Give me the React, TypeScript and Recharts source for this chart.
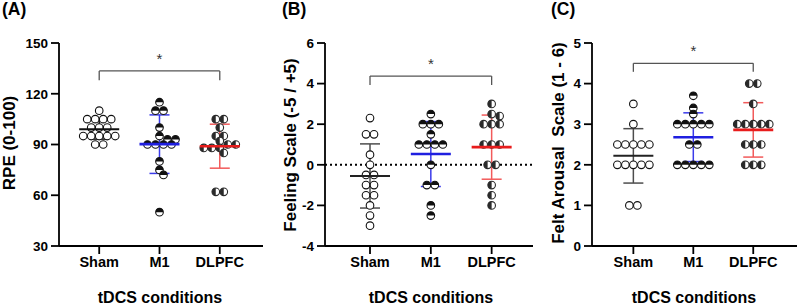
import React from "react";
import {
  ErrorBar,
  ReferenceLine,
  Scatter,
  ScatterChart,
  XAxis,
  YAxis,
} from "recharts";

const conditions = ["Sham", "M1", "DLPFC"];

// (A) RPE
const rpeSham = [110, 105, 105, 105, 105, 100, 100, 100, 95, 95, 95, 95, 95, 90, 90];
const rpeM1 = [115, 110, 110, 100, 95, 93, 93, 90, 90, 90, 90, 80, 75, 72, 50];
const rpeDlpfc = [105, 105, 100, 95, 95, 92, 90, 90, 88, 88, 88, 85, 62, 62];
const rpeMean = [99, 90.2, 89];
const rpeSd = [5.8, 17.3, 13];
const rpeTicks = [30, 60, 90, 120, 150];

// (B) Feeling Scale
const feelingSham = [2.3, 1.5, 1.5, 0.5, 0, -0.5, -0.5, -1, -1, -1.5, -1.5, -2, -2.5, -3];
const feelingM1 = [2.5, 2, 2, 2, 1.5, 1, 1, 1, 1, 0, -1, -1, -2, -2.5];
const feelingDlpfc = [3, 2.5, 2.4, 2, 2, 2, 1, 1, 1, 0, 0, -1, -1.5, -2];
const feelingMean = [-0.55, 0.53, 0.87];
const feelingSd = [1.58, 1.6, 1.58];
const feelingTicks = [-4, -2, 0, 2, 4, 6];

// (C) Felt Arousal Scale
const arousalSham = [3.5, 3, 2.5, 2.5, 2.5, 2.5, 2.5, 2, 2, 2, 2, 2, 1, 1];
const arousalM1 = [3.7, 3.4, 3.25, 3, 3, 3, 3, 3, 2.5, 2.5, 2, 2, 2, 2, 2];
const arousalDlpfc = [4, 4, 3.5, 3, 3, 3, 3, 3, 2.5, 2.5, 2.5, 2, 2, 2];
const arousalMean = [2.22, 2.68, 2.86];
const arousalSd = [0.67, 0.6, 0.67];
const arousalTicks = [0, 1, 2, 3, 4, 5];

const FONT = "'Liberation Sans', Arial, sans-serif";
const HEIGHT = 305;
const TOP = 43;
const X_AXIS_H = 59;
const PLOT_H = HEIGHT - TOP - X_AXIS_H;
const R = 3.8;
const DOT = 8;

type DotProps = { cx?: number; cy?: number };

function OpenDot({ cx = 0, cy = 0 }: DotProps) {
  return <circle cx={cx} cy={cy} r={R} fill="#fff" stroke="#111" strokeWidth={1.1} />;
}

function TopHalfDot({ cx = 0, cy = 0 }: DotProps) {
  return (
    <g>
      <circle cx={cx} cy={cy} r={R} fill="#fff" />
      <path d={`M${cx - R},${cy} A${R},${R} 0 0 1 ${cx + R},${cy} Z`} fill="#111" />
      <circle cx={cx} cy={cy} r={R} fill="none" stroke="#111" strokeWidth={1.1} />
    </g>
  );
}

function LeftHalfDot({ cx = 0, cy = 0 }: DotProps) {
  return (
    <g>
      <circle cx={cx} cy={cy} r={R} fill="#fff" />
      <path d={`M${cx},${cy - R} A${R},${R} 0 0 0 ${cx},${cy + R} Z`} fill="#2a2a2a" />
      <circle cx={cx} cy={cy} r={R} fill="none" stroke="#2a2a2a" strokeWidth={1.1} />
    </g>
  );
}

const dotShapes = [OpenDot, TopHalfDot, LeftHalfDot];

// simple beeswarm: equal values sit in a centred row, rows slide sideways until they stop colliding
function swarm(values: number[], pxPerY: number, pxPerX: number) {
  const placed: { x: number; y: number }[] = [];
  const out = values.map(() => 0);
  const rows = new Map<number, number[]>();
  values.forEach((v, i) => rows.set(v, [...(rows.get(v) || []), i]));
  const keys = [...rows.keys()].sort((a, b) => b - a);
  const minDist = DOT * 0.75;
  for (const k of keys) {
    const idx = rows.get(k)!;
    const y = k * pxPerY;
    for (let step = 0; step < 40; step++) {
      const shift = step === 0 ? 0 : (step % 2 === 1 ? 1 : -1) * Math.ceil(step / 2) * (DOT / 2);
      const xs = idx.map((_, j) => (j - (idx.length - 1) / 2) * DOT + shift);
      const ok = xs.every((x) => placed.every((p) => Math.hypot(p.x - x, p.y - y) >= minDist));
      if (ok) {
        xs.forEach((x, j) => {
          placed.push({ x, y });
          out[idx[j]] = x / pxPerX;
        });
        break;
      }
    }
  }
  return out;
}

type PanelProps = {
  left: number;
  width: number;
  yAxisWidth: number;
  xDomain: [number, number];
  yDomain: [number, number];
  yTicks: number[];
  groups: number[][];
  mean: number[];
  sd: number[];
  meanColors: string[];
  sdColors: string[];
  bracket: { y: number; drop: number; star: number };
  zeroLine?: boolean;
};

function Panel(p: PanelProps) {
  const pxPerY = PLOT_H / (p.yDomain[1] - p.yDomain[0]);
  const pxPerX = (p.width - p.yAxisWidth) / (p.xDomain[1] - p.xDomain[0]);
  const axisStyle = { stroke: "#000", strokeWidth: 1.8 };

  return (
    <div style={{ position: "absolute", left: p.left, top: 0 }}>
      <ScatterChart width={p.width} height={HEIGHT} margin={{ top: TOP, right: 0, bottom: 0, left: 0 }}>
        <XAxis
          type="number"
          dataKey="x"
          domain={p.xDomain}
          ticks={[0, 1, 2]}
          tickFormatter={(i: number) => conditions[i]}
          allowDataOverflow
          height={X_AXIS_H}
          tickSize={8}
          tickMargin={3}
          axisLine={axisStyle}
          tickLine={axisStyle}
          tick={{ fill: "#000", fontSize: 14.5, fontWeight: 700, fontFamily: FONT }}
        />
        <YAxis
          type="number"
          dataKey="y"
          domain={p.yDomain}
          ticks={p.yTicks}
          interval={0}
          allowDataOverflow
          width={p.yAxisWidth}
          tickSize={8}
          tickMargin={3}
          axisLine={axisStyle}
          tickLine={axisStyle}
          tick={{ fill: "#000", fontSize: 13.5, fontWeight: 700, fontFamily: FONT }}
        />
        {p.zeroLine && (
          <ReferenceLine y={0} stroke="#000" strokeWidth={2} strokeDasharray="2 3" />
        )}
        <ReferenceLine
          segment={[{ x: 0, y: p.bracket.y }, { x: 2, y: p.bracket.y }]}
          stroke="#555"
          strokeWidth={1.3}
        />
        <ReferenceLine
          segment={[{ x: 0, y: p.bracket.y }, { x: 0, y: p.bracket.drop }]}
          stroke="#555"
          strokeWidth={1.3}
        />
        <ReferenceLine
          segment={[{ x: 2, y: p.bracket.y }, { x: 2, y: p.bracket.drop }]}
          stroke="#555"
          strokeWidth={1.3}
        />
        <Scatter
          data={[{ x: 1, y: p.bracket.star }]}
          shape={(s: DotProps) => (
            <text
              x={s.cx}
              y={s.cy}
              textAnchor="middle"
              dominantBaseline="central"
              fontSize={15}
              fontFamily={FONT}
              fill="#333"
            >
              *
            </text>
          )}
          isAnimationActive={false}
        />
        {p.groups.map((values, g) => {
          const offsets = swarm(values, pxPerY, pxPerX);
          const Shape = dotShapes[g];
          return (
            <Scatter
              key={`pts-${g}`}
              data={values.map((v, i) => ({ x: g + offsets[i], y: v }))}
              shape={(s: DotProps) => <Shape cx={s.cx} cy={s.cy} />}
              isAnimationActive={false}
            />
          );
        })}
        {p.mean.map((m, g) => (
          <Scatter
            key={`mean-${g}`}
            data={[{ x: g, y: m, sd: p.sd[g] }]}
            shape={(s: DotProps) => (
              <line
                x1={(s.cx || 0) - 20}
                x2={(s.cx || 0) + 20}
                y1={s.cy}
                y2={s.cy}
                stroke={p.meanColors[g]}
                strokeWidth={g === 0 ? 2 : 2.6}
              />
            )}
            isAnimationActive={false}
          >
            <ErrorBar
              dataKey="sd"
              direction="y"
              width={10}
              stroke={p.sdColors[g]}
              strokeWidth={1.5}
              isAnimationActive={false}
            />
          </Scatter>
        ))}
      </ScatterChart>
    </div>
  );
}

export default function App() {
  const textStyle = { fontFamily: FONT, fontWeight: 700, fill: "#000" } as const;
  return (
    <div
      style={{
        position: "absolute",
        left: 0,
        top: 0,
        width: 797,
        height: HEIGHT,
        background: "#fff",
        overflow: "hidden",
      }}
    >
      <Panel
        left={0}
        width={263}
        yAxisWidth={59}
        xDomain={[-0.667, 2.717]}
        yDomain={[30, 150]}
        yTicks={rpeTicks}
        groups={[rpeSham, rpeM1, rpeDlpfc]}
        mean={rpeMean}
        sd={rpeSd}
        meanColors={["#111", "#1f1fe0", "#e81c1c"]}
        sdColors={["#111", "#3b3bea", "#f25a5a"]}
        bracket={{ y: 133.5, drop: 128, star: 141 }}
      />
      <Panel
        left={265}
        width={268}
        yAxisWidth={60}
        xDomain={[-0.74, 2.68]}
        yDomain={[-4, 6]}
        yTicks={feelingTicks}
        groups={[feelingSham, feelingM1, feelingDlpfc]}
        mean={feelingMean}
        sd={feelingSd}
        meanColors={["#222", "#1f1fe0", "#e81c1c"]}
        sdColors={["#4d4d4d", "#3b3bea", "#f25a5a"]}
        bracket={{ y: 4.37, drop: 3.93, star: 5.0 }}
        zeroLine
      />
      <Panel
        left={531}
        width={266}
        yAxisWidth={61}
        xDomain={[-0.69, 2.73]}
        yDomain={[0, 5]}
        yTicks={arousalTicks}
        groups={[arousalSham, arousalM1, arousalDlpfc]}
        mean={arousalMean}
        sd={arousalSd}
        meanColors={["#222", "#1f1fe0", "#e81c1c"]}
        sdColors={["#4d4d4d", "#3b3bea", "#f25a5a"]}
        bracket={{ y: 4.5, drop: 4.29, star: 4.82 }}
      />
      <svg
        width={797}
        height={HEIGHT}
        style={{ position: "absolute", left: 0, top: 0, pointerEvents: "none" }}
      >
        <text x={2} y={15} fontSize={17.5} {...textStyle}>(A)</text>
        <text x={282} y={15} fontSize={17.5} {...textStyle}>(B)</text>
        <text x={551} y={15} fontSize={17.5} {...textStyle}>(C)</text>
        <text
          transform="translate(9,143) rotate(-90)"
          textAnchor="middle"
          dominantBaseline="central"
          fontSize={17}
          {...textStyle}
        >
          RPE (0-100)
        </text>
        <text
          transform="translate(290,145) rotate(-90)"
          textAnchor="middle"
          dominantBaseline="central"
          fontSize={17}
          {...textStyle}
        >
          Feeling Scale (-5 / +5)
        </text>
        <text
          transform="translate(558,143) rotate(-90)"
          textAnchor="middle"
          dominantBaseline="central"
          fontSize={17}
          style={{ whiteSpace: "pre" }}
          {...textStyle}
        >
          {"Felt Arousal  Scale (1 - 6)"}
        </text>
        <text x={160} y={302.5} textAnchor="middle" fontSize={16} {...textStyle}>
          tDCS conditions
        </text>
        <text x={431} y={302.5} textAnchor="middle" fontSize={16} {...textStyle}>
          tDCS conditions
        </text>
        <text x={694} y={302.5} textAnchor="middle" fontSize={16} {...textStyle}>
          tDCS conditions
        </text>
      </svg>
    </div>
  );
}
